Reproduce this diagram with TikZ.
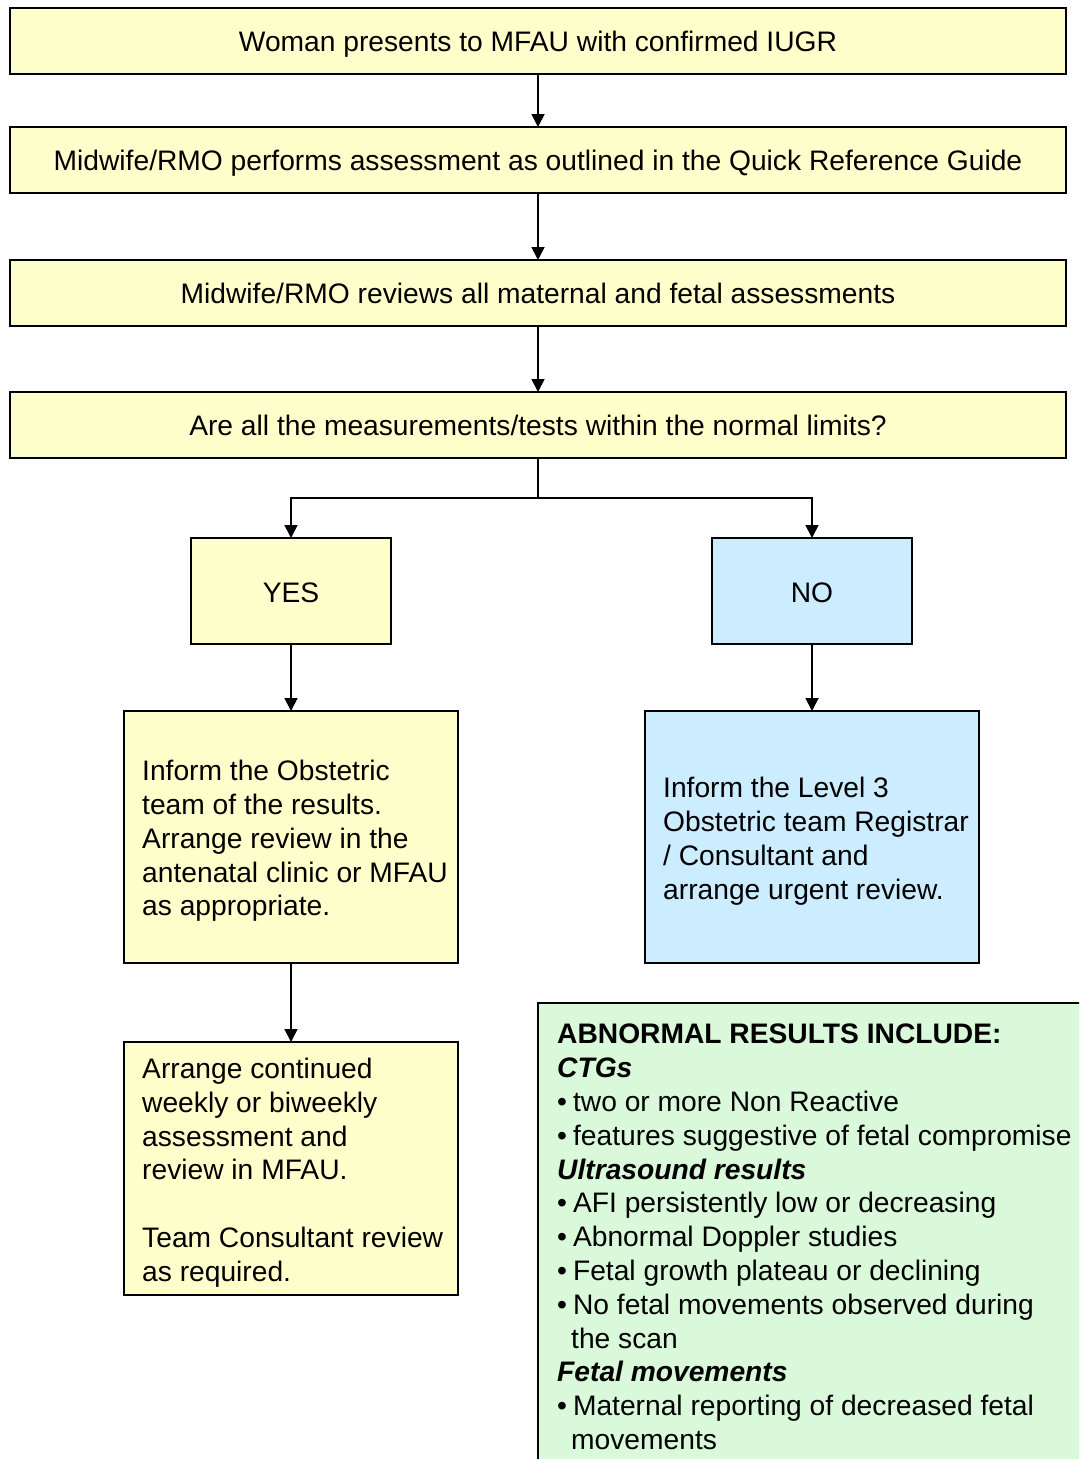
\documentclass[tikz,border=0pt]{standalone}
\usepackage{fontspec}
\setmainfont{Liberation Sans}
\usetikzlibrary{arrows.meta}
\definecolor{boxyellow}{RGB}{255,255,204}
\definecolor{boxblue}{RGB}{204,236,255}
\definecolor{boxgreen}{RGB}{218,248,218}
\begin{document}
\begin{tikzpicture}[x=1pt,y=-1pt,
  box/.style={draw=black, line width=1.5pt, inner sep=0pt, outer sep=0pt, anchor=north west},
  txt/.style={font=\fontsize{28.2}{33.8}\selectfont},
  wide/.style={box, txt, fill=boxyellow, minimum width=1056pt, minimum height=66pt, text height=21pt, text depth=0pt},
  small/.style={box, txt, minimum width=200pt, minimum height=106pt, text height=22pt, text depth=0pt},
  big/.style={box, minimum width=334pt, minimum height=252pt},
  boxtext/.style={txt, align=left, anchor=west, inner sep=0pt},
  arr/.style={line width=1.8pt, -{Triangle[width=13pt,length=13pt]}},
  conn/.style={line width=1.8pt}
]
\useasboundingbox (0,0) rectangle (1079,1459);
\begin{scope}
\clip (0,0) rectangle (1079,1459);
\node[wide] (b1) at (10,8) {Woman presents to MFAU with confirmed IUGR};
\node[wide] (b2) at (10,127) {Midwife/RMO performs assessment as outlined in the Quick Reference Guide};
\node[wide] (b3) at (10,260) {Midwife/RMO reviews all maternal and fetal assessments};
\node[wide] (b4) at (10,392) {Are all the measurements/tests within the normal limits?};
\node[small, fill=boxyellow] (yes) at (191,538) {YES};
\node[small, fill=boxblue] (no) at (712,538) {NO};
\node[big, fill=boxyellow] (yinf) at (124,711) {};
\node[big, fill=boxblue] (ninf) at (645,711) {};
\node[big, fill=boxyellow, minimum height=253pt] (cont) at (124,1042) {};
\node[box, fill=boxgreen, minimum width=600pt, minimum height=520pt] (abn) at (538,1003) {};

\node[boxtext, yshift=-4pt] (yinft) at ([xshift=18pt]yinf.west) {Inform the Obstetric\\team of the results.\\Arrange review in the\\antenatal clinic or MFAU\\as appropriate.};
\node[boxtext, yshift=-4pt] (ninft) at ([xshift=18pt]ninf.west) {Inform the Level 3\\Obstetric team Registrar\\/ Consultant and\\arrange urgent review.};
\node[boxtext, yshift=-4pt] (contt) at ([xshift=18pt]cont.west) {Arrange continued\\weekly or biweekly\\assessment and\\review in MFAU.\\[33.8pt]Team Consultant review\\as required.};
\node[txt, align=left, anchor=north west, inner sep=0pt] (abnt) at (557,1024) {\textbf{ABNORMAL RESULTS INCLUDE:}\\
\textbf{\textit{CTGs}}\\
•\hspace{6pt}two or more Non Reactive\\
•\hspace{6pt}features suggestive of fetal compromise\\
\textbf{\textit{Ultrasound results}}\\
•\hspace{6pt}AFI persistently low or decreasing\\
•\hspace{6pt}Abnormal Doppler studies\\
•\hspace{6pt}Fetal growth plateau or declining\\
•\hspace{6pt}No fetal movements observed during\\
\hspace*{14pt}the scan\\
\textbf{\textit{Fetal movements}}\\
•\hspace{6pt}Maternal reporting of decreased fetal\\
\hspace*{14pt}movements};

\draw[arr] (b1.south) -- (b2.north);
\draw[arr] (b2.south) -- (b3.north);
\draw[arr] (b3.south) -- (b4.north);
\coordinate (split) at (538,498);
\draw[conn] (b4.south) -- (split);
\draw[arr] (split) -| (yes.north);
\draw[arr] (split) -| (no.north);
\draw[arr] (yes.south) -- (yinf.north);
\draw[arr] (no.south) -- (ninf.north);
\draw[arr] (yinf.south) -- (cont.north);
\end{scope}
\end{tikzpicture}
\end{document}
